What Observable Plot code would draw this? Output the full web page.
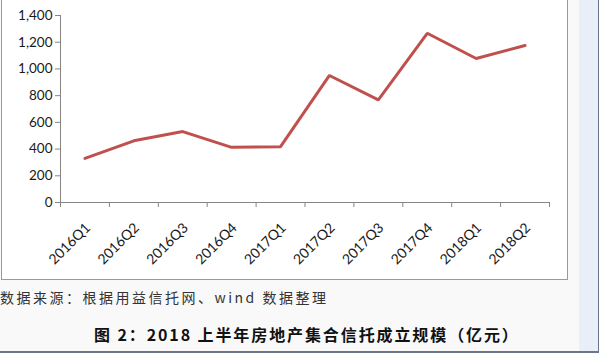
<!DOCTYPE html>
<html><head><meta charset="utf-8">
<script src="https://cdn.jsdelivr.net/npm/d3@7"></script>
<script src="https://cdn.jsdelivr.net/npm/@observablehq/plot@0.6"></script>
<style>
html,body{margin:0;padding:0;}
body{width:599px;height:353px;position:relative;overflow:hidden;background:#f9f9fa;font-family:"Noto Sans CJK SC",sans-serif;}
#frame{position:absolute;left:1px;top:-1px;width:565px;height:280px;border-left:1px solid #9a9a9a;border-right:1px solid #9a9a9a;border-bottom:1px solid #9a9a9a;background:#fff;}
#chart{position:absolute;left:0;top:0;}
#side{position:absolute;left:579px;top:0;width:19px;height:351px;background:#e9eff8;border-right:1px solid #6b7686;}
#bottomline{position:absolute;left:0;top:351px;width:599px;height:2px;background:#6b7686;}
#source{position:absolute;left:0;top:288px;font-size:14px;letter-spacing:2.5px;color:#333;white-space:nowrap;line-height:18px;}
#caption{position:absolute;left:94px;top:324px;font-size:16px;font-weight:bold;letter-spacing:1.9px;color:#111;white-space:nowrap;line-height:20px;}
</style></head>
<body>
<div id="frame"></div>
<div id="chart"></div>
<div id="side"></div>
<div id="bottomline"></div>
<div id="source">数据来源：根据用益信托网、wind 数据整理</div>
<div id="caption">图 2：2018 上半年房地产集合信托成立规模（亿元）</div>
<script>
const categories = ["2016Q1","2016Q2","2016Q3","2016Q4","2017Q1","2017Q2","2017Q3","2017Q4","2018Q1","2018Q2"];
const values = [330, 462, 531, 413, 418, 951, 769, 1267, 1078, 1175];
const yTicks = [0, 200, 400, 600, 800, 1000, 1200, 1400];

const data = categories.map((c, i) => ({cat: c, idx: i + 0.5, value: values[i]}));
const axisColor = "#868686";
const fontFam = "Lato, 'Open Sans', sans-serif";

const chart = Plot.plot({
  width: 567,
  height: 280,
  marginLeft: 60,
  marginRight: 18,
  marginTop: 15,
  marginBottom: 78,
  style: {background: "transparent", fontFamily: fontFam},
  x: {type: "linear", domain: [0, categories.length], axis: null},
  y: {domain: [0, 1400], axis: null},
  marks: [
    Plot.axisY({ticks: yTicks, tickSize: 5, tickPadding: 3, tickFormat: d3.format(","), label: null, stroke: axisColor, fill: "#1a1a1a", fontSize: 13.5}),
    Plot.axisX({ticks: d3.range(categories.length + 1), tickSize: 5, tickFormat: () => "", label: null, stroke: axisColor}),
    Plot.ruleX([0], {stroke: axisColor}),
    Plot.ruleY([0], {stroke: axisColor}),
    Plot.text(data, {x: "idx", y: () => 0, text: "cat", rotate: -45, textAnchor: "end", dx: 3, dy: 23, fontSize: 14, fill: "#1a1a1a"}),
    Plot.line(data, {x: "idx", y: "value", stroke: "#c0504d", strokeWidth: 3, strokeLinejoin: "miter"})
  ]
});
document.getElementById("chart").appendChild(chart);
</script>
</body></html>
